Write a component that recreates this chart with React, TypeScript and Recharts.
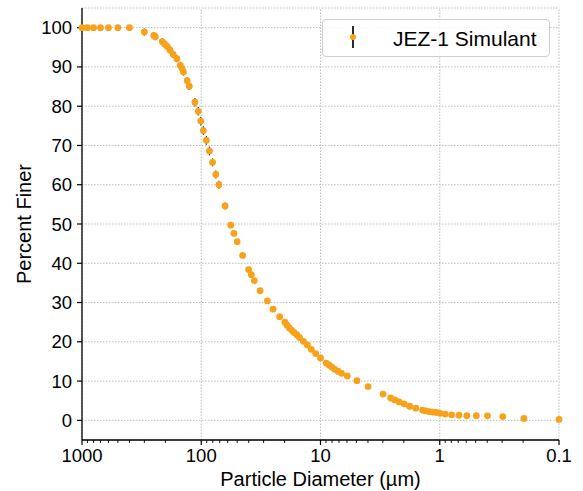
import React from "react";
import {
  CartesianGrid,
  ErrorBar,
  Label,
  Legend,
  ReferenceLine,
  Scatter,
  ScatterChart,
  XAxis,
  YAxis,
} from "recharts";

const FONT = '"Liberation Sans", Arial, sans-serif';
const ORANGE = "#F8A21C";

// Particle diameter (µm)
const diameters = [
  1000, 900, 800, 700, 600, 500, 400, 300, 250, 243,
  212, 202, 193, 183, 172, 160, 150, 145, 141, 131, 126,
  113, 106, 101, 96, 90.6, 85.4, 80.4, 75.5, 71.1,
  63.1, 56.5, 53.2, 50, 45, 40.1, 38, 35.9, 32.1, 27.9, 25, 22,
  19.9, 19.15, 18.3, 17.5, 16.7, 15.8, 15, 13.9, 12.9, 11.96, 10.97, 10,
  8.96, 8.49, 8.06, 7.59, 7.13, 6.67, 5.96, 4.95, 3.99, 2.99,
  2.58, 2.38, 2.19, 1.99, 1.79, 1.59, 1.39, 1.31, 1.22, 1.14, 1.07, 0.99,
  0.9, 0.795, 0.69, 0.593, 0.494, 0.398, 0.296, 0.197, 0.1,
];

// Percent finer for each diameter
const percentFiner = [
  100, 100, 100, 100, 100, 100, 100, 98.9, 98.0, 97.7,
  96.4, 95.8, 95.2, 94.3, 93.2, 92.1, 90.4, 89.6, 88.7, 86.5, 85.1,
  81.0, 78.7, 76.2, 73.8, 71.3, 68.6, 65.7, 62.6, 60.0,
  54.6, 49.7, 47.6, 45.5, 42.0, 38.4, 37.1, 35.6, 33.0, 30.4, 28.3, 26.4,
  25.0, 24.3, 23.6, 23.0, 22.4, 21.8, 21.1, 20.1, 19.2, 18.1, 17.0, 15.9,
  14.6, 14.1, 13.6, 13.0, 12.5, 12.0, 11.3, 10.1, 8.6, 6.7,
  5.7, 5.2, 4.7, 4.2, 3.6, 3.1, 2.6, 2.4, 2.2, 2.1, 2.0, 1.8,
  1.6, 1.4, 1.3, 1.2, 1.2, 1.15, 0.97, 0.5, 0.25,
];

// Standard deviation (mostly hidden behind the markers)
const stdDev = [
  0.3, 0.3, 0.3, 0.3, 0.3, 0.3, 0.3, 0.9, 0.9, 0.9,
  0.9, 0.9, 0.9, 0.9, 0.9, 0.9, 0.9, 0.9, 0.9, 0.9, 1.0,
  1.1, 1.1, 1.1, 1.1, 1.1, 1.1, 1.0, 1.0, 1.0,
  0.9, 0.7, 0.5, 0.5, 0.5, 0.5, 0.5, 0.5, 0.4, 0.4, 0.4, 0.4,
  0.3, 0.3, 0.3, 0.3, 0.3, 0.3, 0.3, 0.3, 0.3, 0.3, 0.3, 0.3,
  0.3, 0.3, 0.3, 0.3, 0.3, 0.3, 0.3, 0.3, 0.3, 0.3,
  0.3, 0.3, 0.3, 0.3, 0.3, 0.3, 0.3, 0.3, 0.3, 0.3, 0.3, 0.3,
  0.3, 0.3, 0.3, 0.3, 0.3, 0.3, 0.3, 0.3, 0.3,
];

const majorTicks = [1000, 100, 10, 1, 0.1];
const minorTicks = [
  900, 800, 700, 600, 500, 400, 300, 200,
  90, 80, 70, 60, 50, 40, 30, 20,
  9, 8, 7, 6, 5, 4, 3, 2,
  0.9, 0.8, 0.7, 0.6, 0.5, 0.4, 0.3, 0.2,
];
const yTicks = [0, 10, 20, 30, 40, 50, 60, 70, 80, 90, 100];

const data = diameters.map((d, i) => ({
  d,
  pct: percentFiner[i],
  err: stdDev[i],
}));

const TICK_SIZE = 5;
const TICK_MARGIN = 3;

function XTick(props: any) {
  const { x, y, payload } = props;
  const v = payload.value as number;
  const major = majorTicks.includes(v);
  const axisY = y - TICK_SIZE - TICK_MARGIN;
  return (
    <g>
      <line
        x1={x}
        x2={x}
        y1={axisY}
        y2={axisY + (major ? 5 : 3)}
        stroke="#000"
        strokeWidth={major ? 1.2 : 0.9}
      />
      {major && (
        <text
          x={x}
          y={axisY + 22}
          textAnchor="middle"
          fontSize={18.5}
          fontFamily={FONT}
          fill="#000"
        >
          {String(v)}
        </text>
      )}
    </g>
  );
}

function LegendBox() {
  return (
    <div
      style={{
        boxSizing: "border-box",
        width: 228,
        height: 38,
        border: "1px solid #cfcfcf",
        borderRadius: 4,
        background: "rgba(255,255,255,0.85)",
        display: "flex",
        alignItems: "center",
        fontFamily: FONT,
        fontSize: 21,
        color: "#000",
      }}
    >
      <svg width={70} height={36} style={{ flex: "none" }}>
        <line x1={30} x2={30} y1={6} y2={28} stroke="#2b2b2b" strokeWidth={2} />
        <circle cx={30} cy={17} r={3} fill={ORANGE} />
      </svg>
      <span style={{ lineHeight: 1 }}>JEZ-1 Simulant</span>
    </div>
  );
}

export default function App() {
  return (
    <div
      style={{
        position: "absolute",
        left: 0,
        top: 0,
        width: 583,
        height: 491,
        background: "#fff",
        fontFamily: FONT,
      }}
    >
      <ScatterChart
        width={583}
        height={491}
        margin={{ top: 8, right: 24, bottom: 0, left: 0 }}
      >
        <CartesianGrid
          vertical={false}
          stroke="#b5b5b5"
          strokeDasharray="1.5 1.5"
          strokeWidth={0.9}
        />
        {majorTicks.map((t) => (
          <ReferenceLine
            key={t}
            x={t}
            stroke="#b5b5b5"
            strokeDasharray="1.5 1.5"
            strokeWidth={0.9}
          />
        ))}
        <XAxis
          dataKey="d"
          type="number"
          scale="log"
          domain={[0.1, 1000]}
          reversed
          ticks={[...majorTicks, ...minorTicks]}
          interval={0}
          tick={<XTick />}
          tickLine={false}
          tickSize={TICK_SIZE}
          tickMargin={TICK_MARGIN}
          height={51}
          axisLine={{ stroke: "#000", strokeWidth: 1.3 }}
        >
          <Label
            content={() => (
              <text
                x={320.5}
                y={486}
                textAnchor="middle"
                fontSize={20}
                fontFamily={FONT}
                fill="#000"
              >
                Particle Diameter (µm)
              </text>
            )}
          />
        </XAxis>
        <YAxis
          dataKey="pct"
          type="number"
          domain={[-5, 105]}
          ticks={yTicks}
          interval={0}
          width={82}
          tickSize={TICK_SIZE}
          tickMargin={5}
          tick={{ fontSize: 18.5, fill: "#000", fontFamily: FONT }}
          tickLine={{ stroke: "#000", strokeWidth: 1.2 }}
          axisLine={{ stroke: "#000", strokeWidth: 1.3 }}
        >
          <Label
            content={() => (
              <text
                x={0}
                y={0}
                transform="translate(31 224) rotate(-90)"
                textAnchor="middle"
                fontSize={20}
                fontFamily={FONT}
                fill="#000"
              >
                Percent Finer
              </text>
            )}
          />
        </YAxis>
        <Legend
          layout="vertical"
          align="center"
          verticalAlign="middle"
          wrapperStyle={{ left: 322, top: 19, width: 228, height: 38 }}
          content={() => <LegendBox />}
        />
        <Scatter
          name="JEZ-1 Simulant"
          data={data}
          fill={ORANGE}
          isAnimationActive={false}
          shape={(p: any) => <circle cx={p.cx} cy={p.cy} r={3.4} fill={ORANGE} />}
        >
          <ErrorBar
            dataKey="err"
            direction="y"
            width={0}
            stroke="#2b2b2b"
            strokeWidth={1.2}
            isAnimationActive={false}
          />
        </Scatter>
      </ScatterChart>
    </div>
  );
}
